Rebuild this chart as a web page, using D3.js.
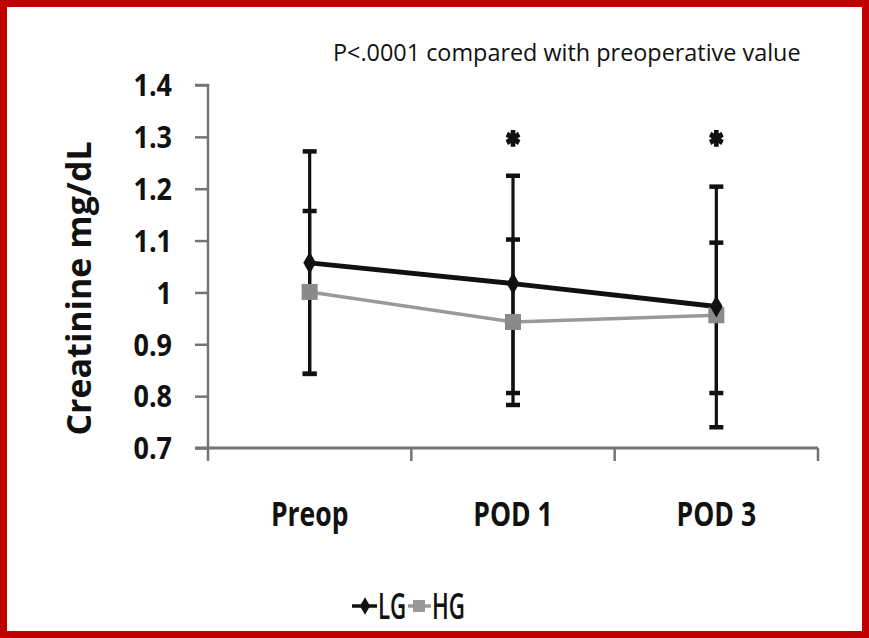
<!DOCTYPE html>
<html>
<head>
<meta charset="utf-8">
<script src="https://cdn.jsdelivr.net/npm/d3@7"></script>
<style>
  html, body { margin: 0; padding: 0; background: #fff; }
  svg { display: block; }
</style>
</head>
<body>
<svg id="chart" width="869" height="638"></svg>
<script>
// ---- data ----
const categories = ["Preop", "POD 1", "POD 3"];
const seriesNames = ["LG", "HG"];
const lgMean  = [1.057, 1.017, 0.973];
const lgUpper = [1.272, 1.225, 1.204];
const lgLower = [0.843, 0.783, 0.740];
const hgMean  = [1.001, 0.943, 0.956];
const hgUpper = [1.157, 1.102, 1.096];
const hgLower = [0.843, 0.806, 0.806];
const starCategories = ["POD 1", "POD 3"];
const starValue = 1.297;
const yTicks = [0.7, 0.8, 0.9, 1.0, 1.1, 1.2, 1.3, 1.4];
const titleText = "P<.0001 compared with preoperative value";
const yTitle = "Creatinine mg/dL";

(function () {
const svg = d3.select("#chart");
const W = 869, H = 638;

// border
svg.append("rect").attr("x", 3.5).attr("y", 3.5).attr("width", W - 7).attr("height", H - 7)
  .attr("fill", "#fff").attr("stroke", "#c00000").attr("stroke-width", 7);

const pLeft = 208, pRight = 818, pTop = 85, pBottom = 448;

const x = d3.scaleBand().domain(categories).range([pLeft, pRight]).padding(0);
const y = d3.scaleLinear().domain([0.7, 1.4]).range([pBottom, pTop]);
const cx = c => x(c) + x.bandwidth() / 2;

const font = "'Open Sans', Arial, sans-serif";
const axisColor = "#747474";

// y axis
const ySx = 0.9;
const yAxis = d3.axisLeft(y).tickValues(yTicks).tickSize(13).tickPadding(23)
  .tickFormat(d => String(+d.toFixed(1)));
const gy = svg.append("g").attr("transform", `translate(${pLeft},0)`).call(yAxis);
gy.select(".domain").attr("stroke", axisColor).attr("stroke-width", 2.5)
  .attr("d", `M-13,${pTop}H0V${pBottom}`);
gy.selectAll(".tick line").attr("stroke", axisColor).attr("stroke-width", 2.5);
gy.selectAll(".tick text").attr("fill", "#111").style("font-family", font)
  .style("font-size", "30px").style("font-weight", "bold")
  .attr("x", -36 / ySx).attr("dy", "0.36em").attr("transform", `scale(${ySx},1)`);

// x axis
const xSx = 0.78;
const xAxis = d3.axisBottom(x).tickSize(0);
const gx = svg.append("g").attr("transform", `translate(0,${pBottom})`).call(xAxis);
gx.select(".domain").attr("stroke", axisColor).attr("stroke-width", 3)
  .attr("d", `M${pLeft - 13},0H${pRight}`);
gx.selectAll(".tick text").attr("fill", "#111").style("font-family", font)
  .style("font-size", "34px").style("font-weight", "bold")
  .attr("y", 78).attr("dy", 0).attr("transform", `scale(${xSx},1)`);
const boundaries = categories.map(c => x(c)).concat([pRight]);
gx.selectAll(".bound").data(boundaries).join("line").attr("class", "bound")
  .attr("x1", d => d).attr("x2", d => d).attr("y1", 0).attr("y2", 13)
  .attr("stroke", axisColor).attr("stroke-width", 2.5);

// y title
svg.append("text").attr("transform", `translate(91,${(pTop + pBottom) / 2 + 22}) rotate(-90)`)
  .attr("text-anchor", "middle").style("font-family", font)
  .style("font-size", "34px").style("font-weight", "bold").attr("fill", "#111").text(yTitle);

// title
svg.append("text").attr("x", 333).attr("y", 61)
  .style("font-family", font).style("font-size", "23.4px")
  .attr("fill", "#111").text(titleText);

// error bars (both black)
function drawErrors(upper, lower) {
  const g = svg.append("g");
  categories.forEach((c, i) => {
    g.append("line").attr("x1", cx(c)).attr("x2", cx(c)).attr("y1", y(upper[i])).attr("y2", y(lower[i]))
      .attr("stroke", "#111").attr("stroke-width", 3.2);
    [upper[i], lower[i]].forEach(v => {
      g.append("line").attr("x1", cx(c) - 7).attr("x2", cx(c) + 7).attr("y1", y(v)).attr("y2", y(v))
        .attr("stroke", "#111").attr("stroke-width", 4.5);
    });
  });
}
drawErrors(lgUpper, lgLower);
drawErrors(hgUpper, hgLower);

// lines
const line = d3.line().x((d, i) => cx(categories[i])).y(d => y(d));
svg.append("path").datum(hgMean).attr("d", line).attr("fill", "none")
  .attr("stroke", "#999").attr("stroke-width", 3.5);
svg.append("path").datum(lgMean).attr("d", line).attr("fill", "none")
  .attr("stroke", "#111").attr("stroke-width", 5);

// markers
svg.selectAll(".hgm").data(hgMean).join("rect").attr("class", "hgm")
  .attr("x", (d, i) => cx(categories[i]) - 8).attr("y", d => y(d) - 8)
  .attr("width", 16).attr("height", 16).attr("fill", "#8a8a8a");
svg.selectAll(".lgm").data(lgMean).join("path").attr("class", "lgm")
  .attr("d", d3.symbol().type(d3.symbolDiamond).size(140))
  .attr("transform", (d, i) => `translate(${cx(categories[i])},${y(d)})`).attr("fill", "#111");

// stars
svg.selectAll(".star").data(starCategories).join("path").attr("class", "star")
  .attr("d", d3.symbol().type(d3.symbolAsterisk).size(200))
  .attr("transform", d => `translate(${cx(d)},${y(starValue)}) scale(0.85,1)`)
  .attr("stroke", "#111").attr("stroke-width", 5.5).attr("fill", "#111");

// legend
const legSx = 0.62;
const lg = svg.append("g").attr("transform", "translate(0,606)");
lg.append("line").attr("x1", 352).attr("x2", 377).attr("y1", 0).attr("y2", 0).attr("stroke", "#111").attr("stroke-width", 3.5);
lg.append("path").attr("d", d3.symbol().type(d3.symbolDiamond).size(90)).attr("transform", "translate(365,0)").attr("fill", "#111");
lg.append("g").attr("transform", `translate(378,0) scale(${legSx},1)`).append("text")
  .attr("dy", "0.36em").style("font-family", font).style("font-weight", 600)
  .style("font-size", "36px").attr("fill", "#111").text(seriesNames[0]);
lg.append("line").attr("x1", 408).attr("x2", 431).attr("y1", 0).attr("y2", 0).attr("stroke", "#999").attr("stroke-width", 3.5);
lg.append("rect").attr("x", 413).attr("y", -6).attr("width", 12).attr("height", 12).attr("fill", "#999");
lg.append("g").attr("transform", `translate(432,0) scale(${legSx},1)`).append("text")
  .attr("dy", "0.36em").style("font-family", font).style("font-weight", 600)
  .style("font-size", "36px").attr("fill", "#111").text(seriesNames[1]);
})();
</script>
</body>
</html>
